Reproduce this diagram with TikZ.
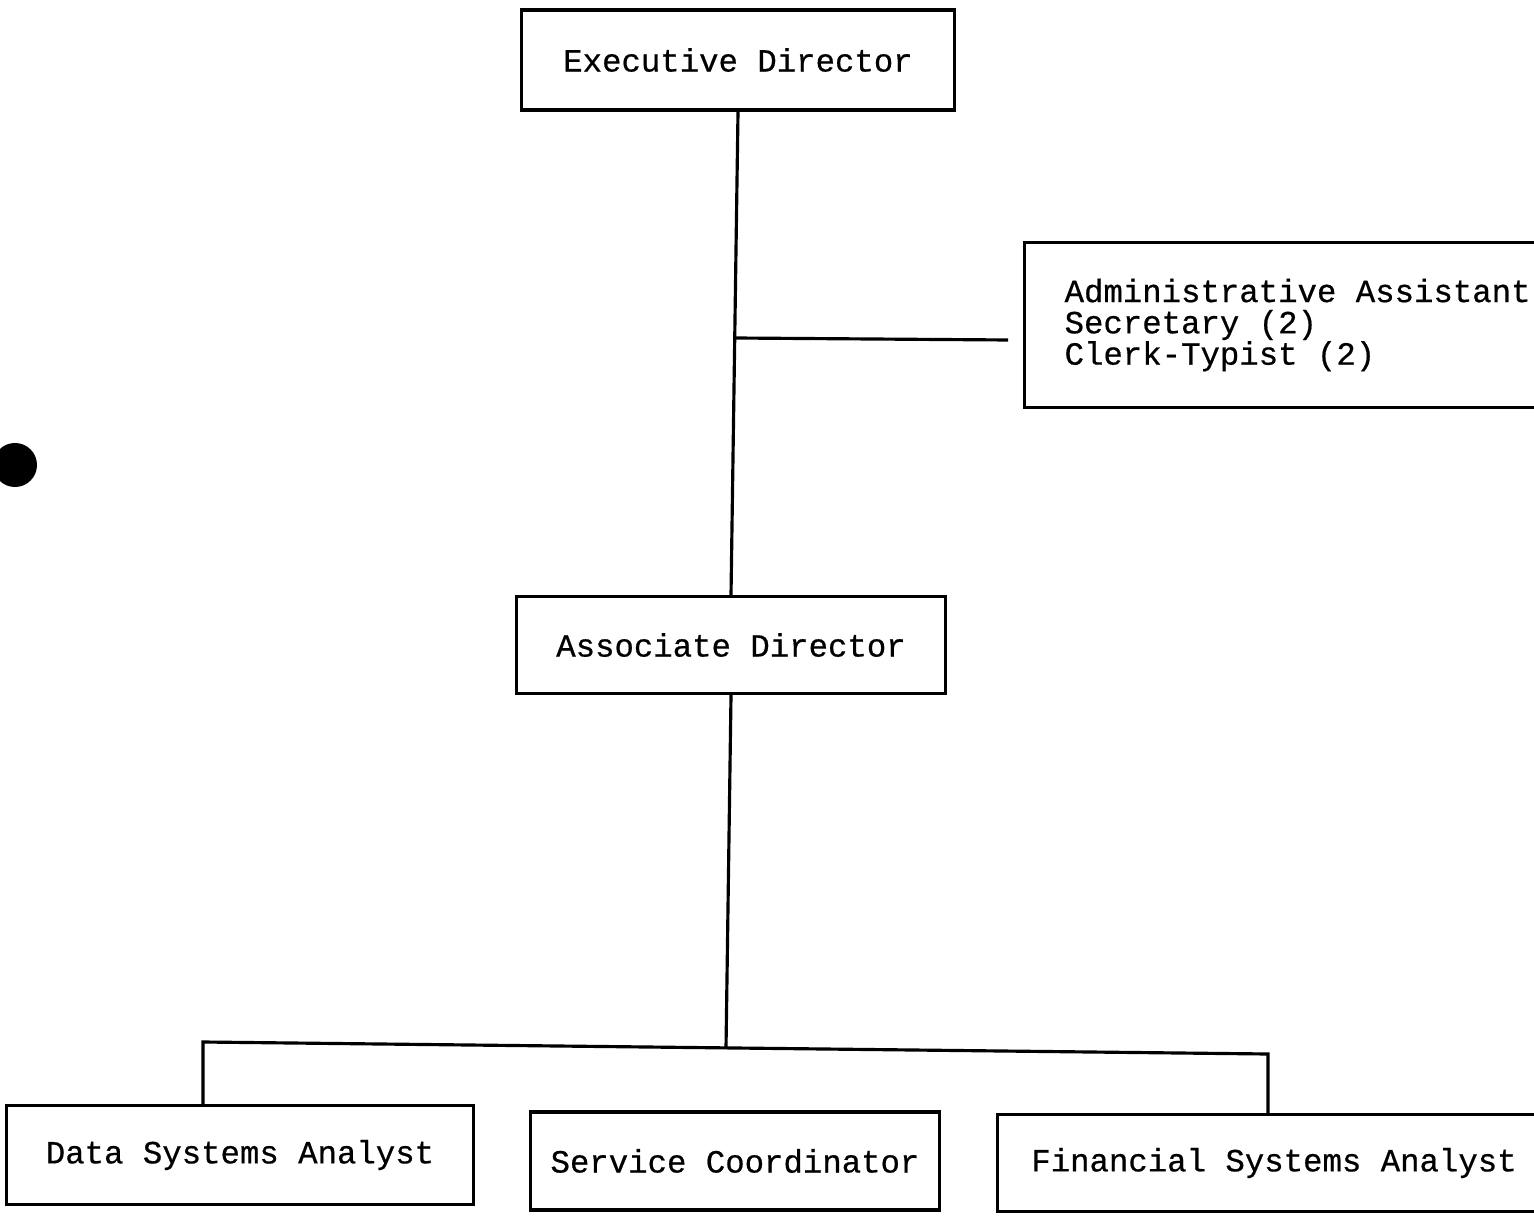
\documentclass[tikz,border=0pt]{standalone}
\usepackage{fontspec}
\setmonofont[FakeBold=0.6]{Liberation Mono}
\begin{document}
\begin{tikzpicture}[x=0.01cm,y=-0.01cm,
    box/.style={draw,line width=0.9pt,inner sep=0pt,
      font=\ttfamily\fontsize{9.2}{8.9}\selectfont},
    line width=0.9pt]
  \useasboundingbox (0,0) rectangle (1534,1216);
  \clip (0,0) rectangle (1534,1216);
  \node[box,minimum width=4.32cm,minimum height=1.0cm] (exec) at (738,60) {Executive Director};
  \node[box,anchor=west,minimum height=1.65cm,inner xsep=0.4cm,align=left] (admin) at (1023,325)
        {Administrative Assistant\\Secretary (2)\\Clerk-Typist (2)};
  \node[box,minimum width=4.29cm,minimum height=0.97cm] (assoc) at (731,645) {Associate Director};
  \node[box,minimum width=4.66cm,minimum height=0.99cm] (data) at (240,1155) {Data Systems Analyst};
  \node[box,minimum width=4.08cm,minimum height=0.98cm] (serv) at (735,1161) {Service Coordinator};
  \node[box,minimum width=5.52cm,minimum height=0.97cm] (fin) at (1274,1163) {Financial Systems Analyst};
  % staff branch
  \coordinate (s1) at (735,338);
  \coordinate (s2) at (1008,340);
  \draw (exec.south) -- (assoc.north);
  \draw (s1) -- (s2);
  % lower branch
  \coordinate (bl) at (203,1042);
  \coordinate (br) at (1268,1054);
  \coordinate (hub) at (726,1048);
  \draw (assoc.south) -- (hub);
  \draw (data.north -| bl) -- (bl) -- (br) -- (fin.north -| br);
  \fill (15,465) circle (0.22cm);
\end{tikzpicture}
\end{document}
